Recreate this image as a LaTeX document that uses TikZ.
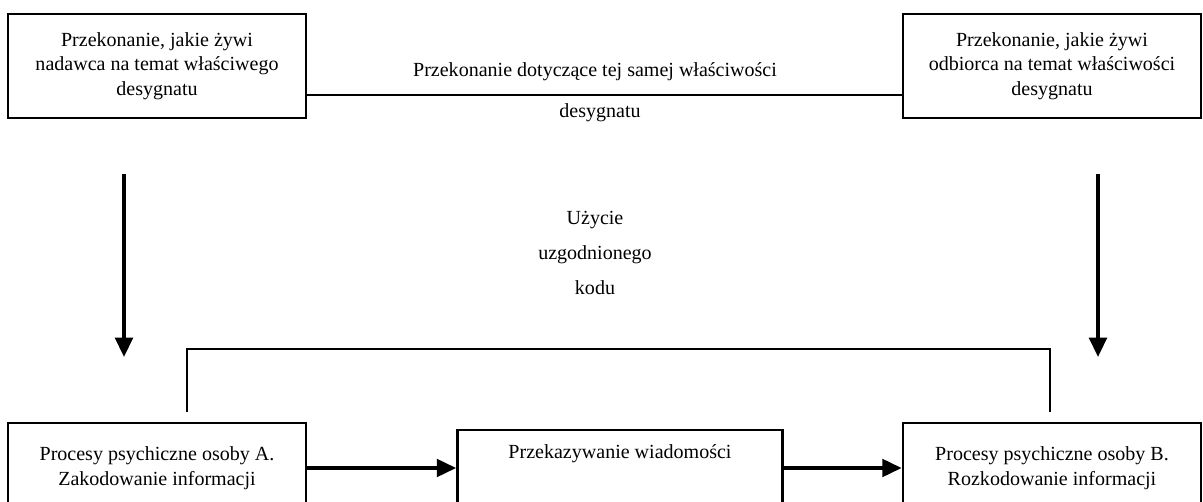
\documentclass[tikz,border=0pt]{standalone}
\usepackage{fontspec}
\setmainfont{Liberation Serif}
\usepackage{xcolor}
\usepackage{tikz}
\usetikzlibrary{arrows.meta}

\begin{document}
\begin{tikzpicture}[x=0.02cm, y=-0.02cm, line width=1.6pt,
    txt/.style={font=\fontsize{11.4}{14}\selectfont, align=center},
    box/.style={draw, txt, minimum width=5.96cm, inner sep=0pt},
    arr/.style={line width=2pt, -{Triangle[length=11pt,width=10pt]}}]
    \path[clip, use as bounding box] (0,0) rectangle (1203,502);

    % Define nodes
    \node[box, minimum height=2.08cm] (nadawca) at (157,66) {Przekonanie, jakie żywi\\nadawca na temat właściwego\\desygnatu};
    \node[box, minimum height=2.08cm] (odbiorca) at (1052,66) {Przekonanie, jakie żywi\\odbiorca na temat właściwości\\desygnatu};
    \node[box, minimum height=1.8cm] (osobaA) at (157,468) {Procesy psychiczne osoby A.\\Zakodowanie informacji};
    \node[box, minimum height=1.52cm, minimum width=6.5cm] (wiadomosc) at (620,468) {Przekazywanie wiadomości\\\strut};
    \node[box, minimum height=1.8cm] (osobaB) at (1052,468) {Procesy psychiczne osoby B.\\Rozkodowanie informacji};
    \node[txt] (wlasciwosc) at (595,72) {Przekonanie dotyczące tej samej właściwości};
    \node[txt] (desygnat) at (600,113) {desygnatu};
    \node[txt, font=\fontsize{11.4}{20}\selectfont] (kod) at (595,253) {Użycie\\uzgodnionego\\kodu};

    % Free ends
    \coordinate (startA) at (124,174);
    \coordinate (endA) at (124,357);
    \coordinate (startB) at (1098,174);
    \coordinate (endB) at (1098,357);
    \coordinate (kodA) at (187,412);
    \coordinate (kodB) at (1050,412);

    % Draw edges
    \draw ([yshift=-0.58cm]nadawca.east) -- ([yshift=-0.58cm]odbiorca.west); % same property
    \draw[arr] (startA) -- (endA); % sender
    \draw[arr] (startB) -- (endB); % receiver
    \draw (kodA) -- ++(0,-63) -| (kodB); % shared code
    \draw[arr] (osobaA) -- (wiadomosc);
    \draw[arr] (wiadomosc) -- (osobaB);
\end{tikzpicture}
\end{document}
